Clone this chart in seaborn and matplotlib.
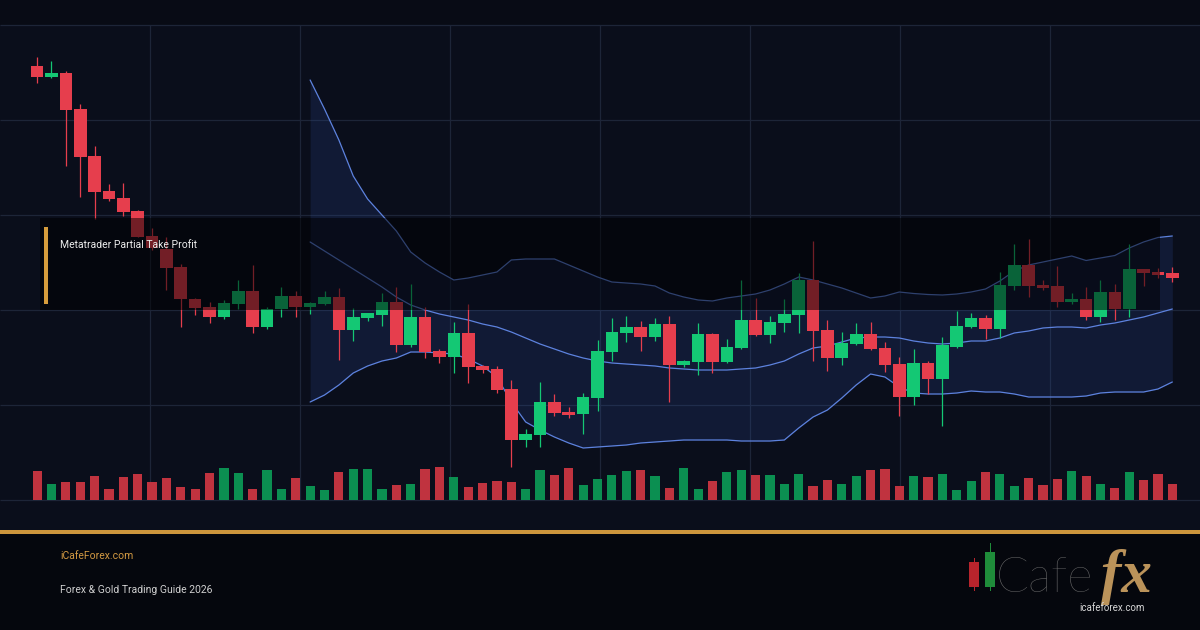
import matplotlib
matplotlib.use("Agg")
import numpy as np
import pandas as pd
import matplotlib.pyplot as plt
import seaborn as sns
from matplotlib.patches import Rectangle

# ---------------- data (price index units) ----------------
opens = [434, 423.3, 427.3, 391, 344, 309, 302, 289, 264, 251, 233, 201, 193, 183, 196, 209, 173, 191, 204, 193,
         196, 203, 170, 181.7, 185, 198, 155, 183, 149, 143, 167, 134, 131, 111, 60, 65, 98, 88, 86, 102,
         148, 167, 173, 163, 176, 135, 138, 166, 138, 152, 180, 165, 177, 185, 220, 170, 142, 156, 166, 152,
         136, 103, 137, 121, 153, 173, 182, 171, 214, 235, 215, 214, 198, 201, 183, 208, 191, 231, 228, 227]
closes = [423.3, 427.3, 390, 343.3, 308.3, 301, 288.3, 263.3, 252, 232, 201, 192, 183, 197, 209, 173, 191, 204, 193, 197,
          203, 170, 183, 186.7, 198, 155, 183, 148, 143, 167, 133, 130, 110, 60, 66, 98, 87, 85, 103, 149,
          168, 173, 163, 176, 135, 139, 166, 138, 153, 180, 165, 178, 186, 220, 169, 142, 157, 166, 151, 135,
          103, 137, 121, 155, 174, 182, 171, 215, 235, 214, 212, 198, 201, 183, 208, 191, 231, 227, 225, 222]
highs = [443.3, 439, 429.3, 396, 354, 316, 316.7, 290, 272, 263, 236, 202, 198, 200, 220, 235, 193, 213, 209, 198,
         209, 212, 192, 187.3, 207, 213, 216, 193, 151, 178, 196, 135, 134, 120, 71, 118, 106, 93, 107, 160,
         182, 184, 179, 182, 184, 140, 177, 167, 161, 220, 202, 184, 201, 227, 259, 180, 168, 177, 178, 158,
         143, 151, 139, 163, 189, 187, 185, 228, 256, 261, 220, 234, 207, 213, 220, 216, 256, 231, 232, 233]
lows = [416.7, 422.5, 334, 302.7, 280.7, 299.3, 284.3, 263, 250, 210, 173, 185, 177, 181, 191, 167, 171, 183, 183, 186,
        195, 140, 159, 179.3, 174, 148, 153, 142, 137, 127, 117, 127, 107, 33, 53, 53, 84, 82, 66, 89,
        139, 158, 149, 159, 98, 133, 125, 127, 137, 151, 164, 157, 168, 167, 139, 129, 135, 155, 150, 128,
        84, 95, 106, 74, 152, 172, 161, 162, 210, 203, 210, 193, 196, 180, 178, 180, 183, 214, 222, 218]
volumes = [2870, 1570, 1770, 1770, 2370, 1070, 2270, 2570, 1770, 2170, 1270, 1070, 2670, 3170, 2670, 1070, 2970, 1070, 2170, 1370,
           970, 2770, 3070, 3070, 1070, 1470, 1570, 3070, 3270, 2270, 1270, 1670, 1870, 1770, 1070, 2970, 2470, 3170, 1470, 2070,
           2470, 2870, 2970, 2370, 1170, 3170, 1070, 1870, 2770, 2970, 2470, 2470, 1570, 2570, 1370, 1970, 1570, 2370, 2970, 3070,
           1370, 2370, 2270, 2570, 970, 1870, 2770, 2570, 1370, 2170, 1470, 2070, 2870, 2370, 1570, 1170, 2770, 1970, 2570, 1570]

band_first = 19
upper = [420, 391, 360, 324, 301, 285, 269, 248, 237, 228, 220, 222, 225, 228, 240, 241, 241, 241, 235, 229,
         223, 218, 217, 216, 214, 207, 203, 200, 199, 202, 204, 206, 210, 216, 223, 220, 216, 212, 207, 202,
         204, 208, 206.5, 205.5, 205, 206, 208, 211, 219, 229, 235, 238, 241, 244, 239.5, 242, 244.5, 252, 258, 262.5, 264]
middle = [258, 249, 240, 231, 222, 213, 203, 195, 190, 186, 183, 180, 176, 173, 168, 162, 156, 151, 146, 142,
          139, 137, 136, 135, 134, 132, 131, 130, 130, 130, 131, 132, 135, 139, 146, 152, 154, 158, 162, 163,
          163, 162, 159, 157, 156, 157, 159, 159, 162, 167, 169, 172, 173, 173, 172, 175, 177, 180, 183, 187, 191]
lower = [98, 105, 115, 127, 134, 139, 142, 148, 148, 147, 146, 141, 134, 123, 98, 78, 70, 63, 57, 52,
         53, 54, 55, 57, 58, 59, 60, 60, 60, 60, 59, 59, 59, 60, 72, 83, 90, 102, 115, 126,
         123, 113, 107, 106, 106, 107, 109, 108, 108, 106, 103, 103, 103, 103, 104, 107, 108, 108, 108, 111, 118]

title = "Metatrader Partial Take Profit"
site_label = "iCafeForex.com"
subtitle = "Forex & Gold Trading Guide 2026"
logo_small = "icafeforex.com"

# ---------------- style ----------------
sns.set_theme(style="dark")
plt.rcParams["font.family"] = ["Roboto", "DejaVu Sans"]

W, H = 1200, 630
UP, DOWN = "#14c874", "#e63e4d"
VUP, VDOWN = "#0b8f51", "#c0333f"
BAND = "#5d82de"
GRID = "#1d2538"
GOLD = "#cd963c"

fig = plt.figure(figsize=(12, 6.3), dpi=100)
fig.patch.set_facecolor("#080b15")

def fy(y):
    return 1 - y / H

# backgrounds
fig.add_artist(Rectangle((0, fy(532)), 1, (532 - 25) / H, transform=fig.transFigure,
                         facecolor="#0a0e1b", edgecolor="none", zorder=-10))
fig.add_artist(Rectangle((0, 0), 1, fy(532), transform=fig.transFigure,
                         facecolor="#05070d", edgecolor="none", zorder=-10))

# candle index <-> pixel mapping (layout)
x0_px, step_px = 37.1, 14.37
ax = fig.add_axes([0, fy(505), 1, (505 - 20) / H])
ax.set_facecolor("none")
ax.set_xlim(-x0_px / step_px, (W - x0_px) / step_px)
ax.set_ylim(-5, 480)
ax.set_axis_off()

n = len(opens)
idx = np.arange(n)
df = pd.DataFrame({"i": idx, "open": opens, "high": highs, "low": lows,
                   "close": closes, "volume": volumes})
df["dir"] = np.where(df["close"] >= df["open"], "up", "down")

# grid
for yy in [0, 95, 190, 285, 380, 475]:
    ax.hlines(yy, *ax.get_xlim(), color=GRID, lw=0.9, zorder=0.5)
for px in [150, 300, 450, 600, 750, 900, 1050]:
    ax.vlines((px - x0_px) / step_px, 0, 475, color=GRID, lw=0.9, zorder=0.5)

# bollinger bands
bi = np.arange(band_first, band_first + len(upper))
ax.fill_between(bi, lower, upper, color="#2f4f9e", alpha=0.2, lw=0, zorder=1)
for series in (upper, middle, lower):
    sns.lineplot(x=bi, y=series, ax=ax, color=BAND, lw=0.9, zorder=2)

# candles
cols = np.where(df["dir"] == "up", UP, DOWN)
ax.vlines(df["i"], df["low"], df["high"], colors=cols, lw=0.9, zorder=3)
body_lo = np.minimum(df["open"], df["close"])
body_h = np.maximum(np.abs(df["close"] - df["open"]), 1.5)
ax.bar(df["i"], body_h, bottom=body_lo, width=0.88, color=cols, lw=0, zorder=4)

# volume
axv = ax.twinx()
axv.set_facecolor("none")
sns.barplot(data=df, x="i", y="volume", hue="dir", palette={"up": VUP, "down": VDOWN},
            native_scale=True, dodge=False, width=0.64, saturation=1, errorbar=None,
            legend=False, ax=axv, zorder=2, linewidth=0, edgecolor="none")
axv.set_xlim(ax.get_xlim())
axv.set_ylim(-500, 48000)
axv.set_axis_off()

# dark caption card
fig.add_artist(Rectangle((40 / W, fy(310)), 1120 / W, 92 / H, transform=fig.transFigure,
                         facecolor="#000000", alpha=0.5, edgecolor="none", zorder=5))
fig.add_artist(Rectangle((44 / W, fy(304)), 4 / W, 77 / H, transform=fig.transFigure,
                         facecolor="#d69c3c", edgecolor="none", zorder=6))
fig.text(60 / W, fy(245), title, color="#ececec", fontsize=7.5, va="center", ha="left", zorder=7)

# footer
fig.add_artist(Rectangle((0, fy(534)), 1, 4 / H, transform=fig.transFigure,
                         facecolor=GOLD, edgecolor="none", zorder=6))
fig.text(60 / W, fy(556), site_label, color="#d49a42", fontsize=7.5, va="center", ha="left")
fig.text(60 / W, fy(590), subtitle, color="#cfcfcf", fontsize=7.5, va="center", ha="left")

# logo
fig.add_artist(Rectangle((969.5 / W, fy(587)), 10 / W, 25 / H, transform=fig.transFigure,
                         facecolor="#b8242c", edgecolor="none", zorder=6))
fig.add_artist(Rectangle((974 / W, fy(591)), 1 / W, 33 / H, transform=fig.transFigure,
                         facecolor="#b8242c", edgecolor="none", zorder=5))
fig.add_artist(Rectangle((985 / W, fy(587)), 10 / W, 35 / H, transform=fig.transFigure,
                         facecolor="#1f8c3a", edgecolor="none", zorder=6))
fig.add_artist(Rectangle((989.5 / W, fy(591)), 1 / W, 48 / H, transform=fig.transFigure,
                         facecolor="#1f8c3a", edgecolor="none", zorder=5))
fig.text(996 / W, fy(592), "Cafe", color="#6e6e6e", fontsize=35, fontweight="light",
         family=["Lato", "Roboto", "DejaVu Sans"], va="baseline", ha="left")
fig.text(1101 / W, fy(592), "fx", color="#bb935a", fontsize=44, fontweight="bold", fontstyle="italic",
         family=["Liberation Serif", "DejaVu Serif"], va="baseline", ha="left", zorder=7)
fig.text(1112 / W, fy(608), logo_small, color="#d6d6d6", fontsize=7, va="center", ha="center", zorder=8)

fig.savefig("out.png", dpi=100, facecolor=fig.get_facecolor())
